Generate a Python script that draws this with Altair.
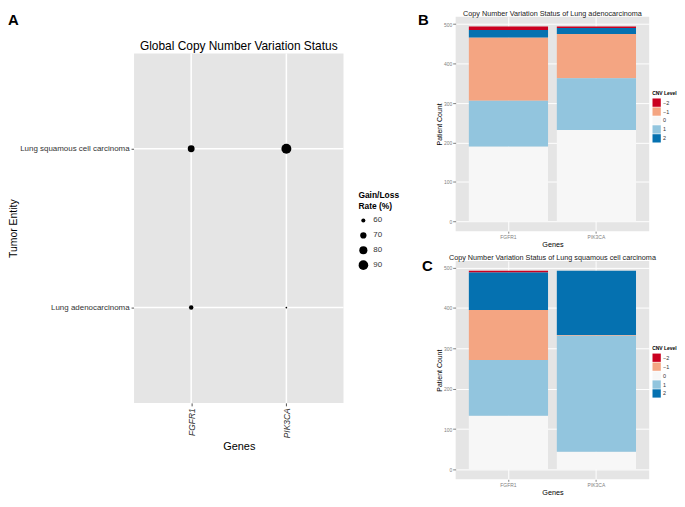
import altair as alt
import pandas as pd

FONT = "Liberation Sans"

# ---------------- data ----------------
genes = ["FGFR1", "PIK3CA"]
entities = ["Lung squamous cell carcinoma", "Lung adenocarcinoma"]
rate_squamous = [73.0, 91.1]   # gain/loss rate (%) FGFR1, PIK3CA
rate_adeno = [61.5, 53.0]
size_legend_values = [60, 70, 80, 90]

cnv_levels = ["\u22122", "\u22121", "0", "1", "2"]
stack_order = ["0", "1", "\u22121", "2", "\u22122"]   # bottom -> top
cnv_colors = ["#CA0020", "#F4A582", "#F7F7F7", "#92C5DE", "#0571B0"]

# patient counts per CNV level (in cnv_levels order)
adeno_fgfr1 = [9, 160, 190, 116, 19]
adeno_pik3ca = [4, 112, 232, 131, 15]
squam_fgfr1 = [4, 124, 133, 138, 93]
squam_pik3ca = [0, 2, 44, 287, 159]
count_ticks = [0, 100, 200, 300, 400, 500]

GRAY = "#E5E5E5"

# ---------------- panel A ----------------
A_W = 211
A_TOP = 37     # top of grey panel inside the view
A_H = 389      # view height (bottom of grey panel)

df_a = pd.DataFrame({
    "entity": [entities[0]] * 2 + [entities[1]] * 2,
    "gene": genes * 2,
    "rate": rate_squamous + rate_adeno,
})

x_a = alt.X("gene:N", sort=genes,
            scale=alt.Scale(type="point", padding=0.6),
            axis=alt.Axis(title="Genes", labelAngle=270, labelAlign="right",
                          labelBaseline="middle", labelFontStyle="italic",
                          labelFontSize=8.5, labelColor="#333333",
                          titleFontSize=11, titleFontWeight="normal", titleColor="black",
                          tickSize=3, tickColor="#555555", labelPadding=2, titlePadding=3,
                          grid=False, domain=False))
y_a = alt.Y("entity:N", sort=entities,
            scale=alt.Scale(type="point", padding=0.6, range=[A_TOP, A_H]),
            axis=alt.Axis(title="Tumor Entity", labelFontSize=8, labelColor="#333333",
                          titleFontSize=10.5, titleFontWeight="normal", titleColor="black",
                          tickSize=3, tickColor="#555555", labelPadding=2, titlePadding=1,
                          grid=False, domain=False))

bg_a = alt.Chart(pd.DataFrame({"k": [0]})).mark_rect(color=GRAY).encode(
    x=alt.value(0), x2=alt.value(A_W), y=alt.value(A_TOP), y2=alt.value(A_H))

vgrid = alt.Chart(pd.DataFrame({"gene": genes})).mark_rule(
    color="white", strokeWidth=1.5).encode(x=x_a, y=alt.value(A_TOP), y2=alt.value(A_H))

hgrid = alt.Chart(pd.DataFrame({"entity": entities})).mark_rule(
    color="white", strokeWidth=1.5).encode(y=y_a, x=alt.value(0), x2=alt.value(A_W))

points = alt.Chart(df_a).mark_circle(color="black", opacity=1).encode(
    x=x_a,
    y=y_a,
    size=alt.Size("rate:Q",
                  scale=alt.Scale(type="pow", exponent=2, domain=[53, 91.1],
                                  range=[3, 100], zero=False),
                  legend=alt.Legend(title=["Gain/Loss", "Rate (%)"], values=size_legend_values,
                                    orient="none", legendX=226, legendY=176,
                                    titleFontSize=8.5, titleFontWeight="bold", titleColor="black",
                                    labelFontSize=8, labelColor="#333333", labelOffset=5,
                                    symbolFillColor="black", symbolStrokeWidth=0,
                                    clipHeight=14.5, rowPadding=0, titlePadding=3)),
)

title_a = alt.Chart(pd.DataFrame({"t": ["Global Copy Number Variation Status"]})).mark_text(
    font=FONT, fontSize=12, align="center", baseline="alphabetic", color="black"
).encode(text="t:N", x=alt.value(A_W / 2), y=alt.value(A_TOP - 4))

letter_a = alt.Chart(pd.DataFrame({"t": ["A"]})).mark_text(
    font=FONT, fontSize=15, fontWeight="bold", align="left", baseline="top", color="black"
).encode(text="t:N", x=alt.value(-127), y=alt.value(-4))

panel_a = alt.layer(bg_a, vgrid, hgrid, points, title_a, letter_a).properties(
    width=A_W, height=A_H,
)

# ---------------- panels B and C ----------------
B_W = 195


def bar_panel(title_text, counts_f, counts_p, letter, letter_x, letter_y, legend_y, height):
    rows = []
    for gene, counts in zip(genes, [counts_f, counts_p]):
        for lvl, c in zip(cnv_levels, counts):
            rows.append({"gene": gene, "level": lvl, "count": c,
                         "order": stack_order.index(lvl)})
    df = pd.DataFrame(rows)
    total = max(sum(counts_f), sum(counts_p))
    bars = alt.Chart(df).mark_bar(strokeWidth=0).encode(
        x=alt.X("gene:N", sort=genes,
                scale=alt.Scale(paddingInner=0.1, paddingOuter=0.15),
                axis=alt.Axis(title="Genes", labelAngle=0, labelFontSize=5,
                              labelColor="#7F7F7F", titleFontSize=7.3,
                              titleFontWeight="normal", titleColor="black",
                              tickSize=2, tickColor="#7F7F7F", labelPadding=1,
                              titlePadding=1, grid=True, gridColor="white",
                              gridWidth=1, bandPosition=0.5, domain=False)),
        y=alt.Y("count:Q", stack="zero",
                scale=alt.Scale(domain=[-0.05 * total, 1.05 * total], nice=False, zero=False),
                axis=alt.Axis(title="Patient Count", values=count_ticks, labelFontSize=5,
                              labelColor="#7F7F7F", titleFontSize=7,
                              titleFontWeight="normal", titleColor="black",
                              tickSize=3, tickColor="#7F7F7F", labelPadding=1,
                              titlePadding=1, grid=True, gridColor="white",
                              gridWidth=1, domain=False)),
        color=alt.Color("level:N",
                        scale=alt.Scale(domain=cnv_levels, range=cnv_colors),
                        legend=alt.Legend(title="CNV Level", orient="none",
                                          legendX=198, legendY=legend_y,
                                          titleFontSize=5, titleFontWeight="bold",
                                          titleColor="black", labelFontSize=5.5,
                                          labelColor="#333333", symbolType="square",
                                          symbolSize=70, symbolStrokeWidth=0,
                                          rowPadding=0, titlePadding=2, labelOffset=2)),
        order=alt.Order("order:Q", sort="ascending"),
    )
    title_layer = alt.Chart(pd.DataFrame({"t": [title_text]})).mark_text(
        font=FONT, fontSize=7.3, align="center", baseline="alphabetic", color="#1a1a1a"
    ).encode(text="t:N", x=alt.value(B_W / 2), y=alt.value(-1))
    letter_layer = alt.Chart(pd.DataFrame({"t": [letter]})).mark_text(
        font=FONT, fontSize=15, fontWeight="bold", align="left", baseline="top",
        color="black"
    ).encode(text="t:N", x=alt.value(letter_x), y=alt.value(letter_y))
    return alt.layer(bars, title_layer, letter_layer).properties(
        width=B_W, height=height,
        view=alt.ViewBackground(fill=GRAY, strokeWidth=0),
    )


panel_b = bar_panel("Copy Number Variation Status of Lung adenocarcinoma",
                    adeno_fgfr1, adeno_pik3ca, "B", -38, -4, 75, 216)
panel_c = bar_panel("Copy Number Variation Status of Lung squamous cell carcinoma",
                    squam_fgfr1, squam_pik3ca, "C", -34, -2, 86, 220)

right = alt.vconcat(panel_b, panel_c, spacing=6).resolve_scale(
    x="independent", y="independent", color="independent"
).resolve_legend(color="independent")

chart = alt.hconcat(panel_a, right, spacing=18).resolve_scale(
    x="independent", y="independent", color="independent", size="independent"
).properties(
    padding={"left": 0, "top": 0, "right": 0, "bottom": 0}
).configure(font=FONT, background="white").configure_view(
    strokeWidth=0
)

chart.save("out.html", embed_options={"renderer": "svg", "actions": False})
